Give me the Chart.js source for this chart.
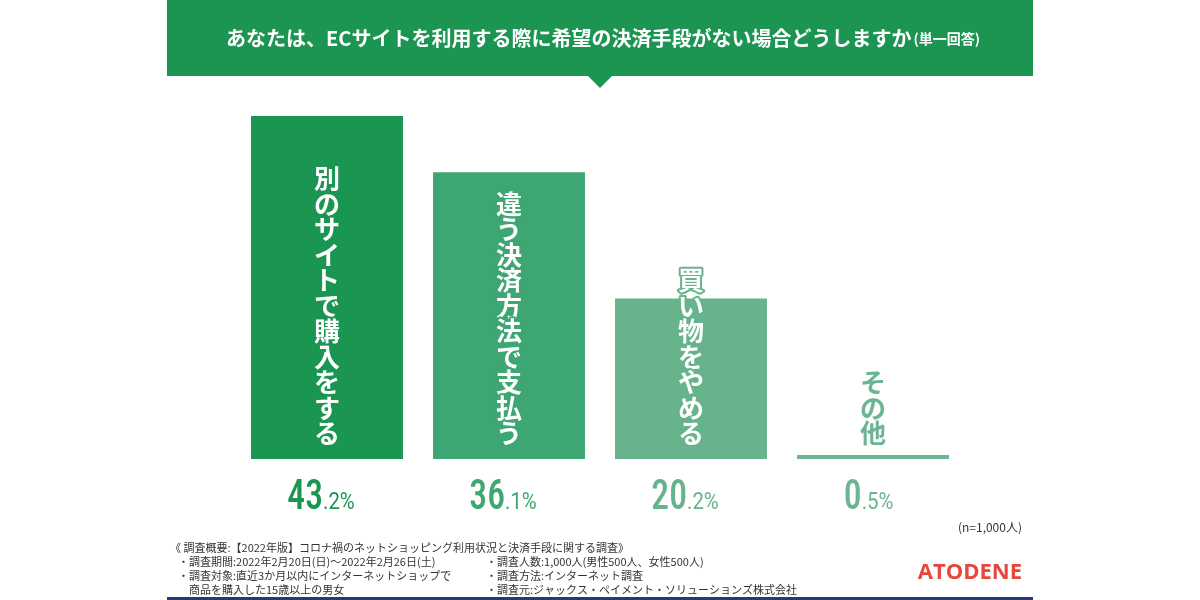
<!DOCTYPE html>
<html><head><meta charset="utf-8">
<script src="https://cdn.jsdelivr.net/npm/chart.js@4"></script>
<style>html,body{margin:0;padding:0;background:#fff}#w{width:1200px;height:600px;position:relative}</style>
</head><body><div id="w"><canvas id="c" width="1200" height="600"></canvas></div>
<script>
const categories = ["別のサイトで購入をする","違う決済方法で支払う","買い物をやめる","その他"];
const values = [43.2, 36.1, 20.2, 0.5];
const barColors = ["#1b9552","#3ea672","#66b38c","#6cb593"];
const title = "あなたは、ECサイトを利用する際に希望の決済手段がない場合どうしますか";
const FONT = '"Noto Sans CJK JP", sans-serif';

const deco = {
  id: 'deco',
  beforeDraw(ch) {
    const c = ch.ctx;
    c.save();
    c.fillStyle = '#fff'; c.fillRect(0,0,1200,600);
    c.fillStyle = '#1c9452';
    c.fillRect(167,0,866,76);
    c.beginPath(); c.moveTo(588,76); c.lineTo(612,76); c.lineTo(600,88); c.closePath(); c.fill();
    c.fillStyle = '#fff'; c.textBaseline = 'middle';
    c.font = 'bold 20px ' + FONT;
    const w1 = c.measureText(title).width;
    c.font = 'bold 14px ' + FONT;
    const sub = '(単一回答)';
    const w2 = c.measureText(sub).width;
    const x0 = 602 - (w1 + w2) / 2;
    c.font = 'bold 20px ' + FONT; c.textAlign = 'left';
    c.fillText(title, x0, 38);
    c.font = 'bold 14px ' + FONT;
    c.fillText(sub, x0 + w1 + 2, 39);
    c.fillStyle = '#333';
    c.font = '12px ' + FONT;
    c.textAlign = 'right';
    c.fillText('(n=1,000人)', 1022, 527);
    c.textAlign = 'left';
    c.font = '11px ' + FONT;
    c.fillText('《 調査概要:【2022年版】コロナ禍のネットショッピング利用状況と決済手段に関する調査》', 170, 548);
    c.fillText('・調査期間:2022年2月20日(日)〜2022年2月26日(土)', 178, 562);
    c.fillText('・調査対象:直近3か月以内にインターネットショップで', 178, 576);
    c.fillText('　商品を購入した15歳以上の男女', 178, 590);
    c.fillText('・調査人数:1,000人(男性500人、女性500人)', 486, 562);
    c.fillText('・調査方法:インターネット調査', 486, 576);
    c.fillText('・調査元:ジャックス・ペイメント・ソリューションズ株式会社', 486, 590);
    c.fillStyle = '#e8453c';
    c.font = 'bold 22px "Open Sans", sans-serif';
    c.textAlign = 'right';
    c.fillText('ATODENE', 1022, 573);
    c.fillStyle = '#2a3a70';
    c.fillRect(167, 597, 866, 3);
    c.restore();
  },
  afterDatasetsDraw(ch) {
    const c = ch.ctx; const meta = ch.getDatasetMeta(0);
    c.save();
    meta.data.forEach((bar, i) => {
      const chars = [...categories[i]];
      const fs = 26, pitch = 25.5;
      c.font = 'bold ' + fs + 'px ' + FONT;
      c.textAlign = 'center'; c.textBaseline = 'middle';
      let y = 446 - pitch/2 - (chars.length - 1) * pitch;
      chars.forEach(ch2 => {
        if (i === 3) { c.fillStyle = barColors[i]; c.fillText(ch2, bar.x, y); }
        else {
          c.lineWidth = 4; c.strokeStyle = barColors[i]; c.lineJoin = 'round';
          c.strokeText(ch2, bar.x, y);
          c.fillStyle = '#fff'; c.fillText(ch2, bar.x, y);
        }
        y += pitch;
      });
      const s = values[i].toFixed(1).split('.');
      c.fillStyle = barColors[i];
      c.textBaseline = 'alphabetic'; c.textAlign = 'left';
      const bigF = '500 42px "Roboto Condensed", Roboto, sans-serif';
      const smF = '400 24px Roboto, sans-serif';
      c.font = bigF;
      const big = s[0];
      const wb = c.measureText(big).width;
      c.font = smF;
      const small = '.' + s[1] + '%';
      const ws = c.measureText(small).width;
      const x0 = bar.x - (wb + ws) / 2;
      c.save(); c.translate(x0, 509); c.scale(0.85, 1);
      c.font = bigF; c.fillText(big, 0, 0);
      c.font = smF; c.fillText(small, wb, 0);
      c.restore();
    });
    c.restore();
  }
};

new Chart(document.getElementById('c'), {
  type: 'bar',
  data: { labels: categories, datasets: [{ data: values, backgroundColor: barColors, barPercentage: 0.835, categoryPercentage: 1 }] },
  options: {
    responsive: false, animation: false,
    layout: { padding: { left: 236, right: 236, top: 62, bottom: 141 } },
    plugins: { legend: { display: false }, tooltip: { enabled: false } },
    scales: { x: { display: false }, y: { display: false, min: 0, max: 50 } }
  },
  plugins: [deco]
});
</script></body></html>
